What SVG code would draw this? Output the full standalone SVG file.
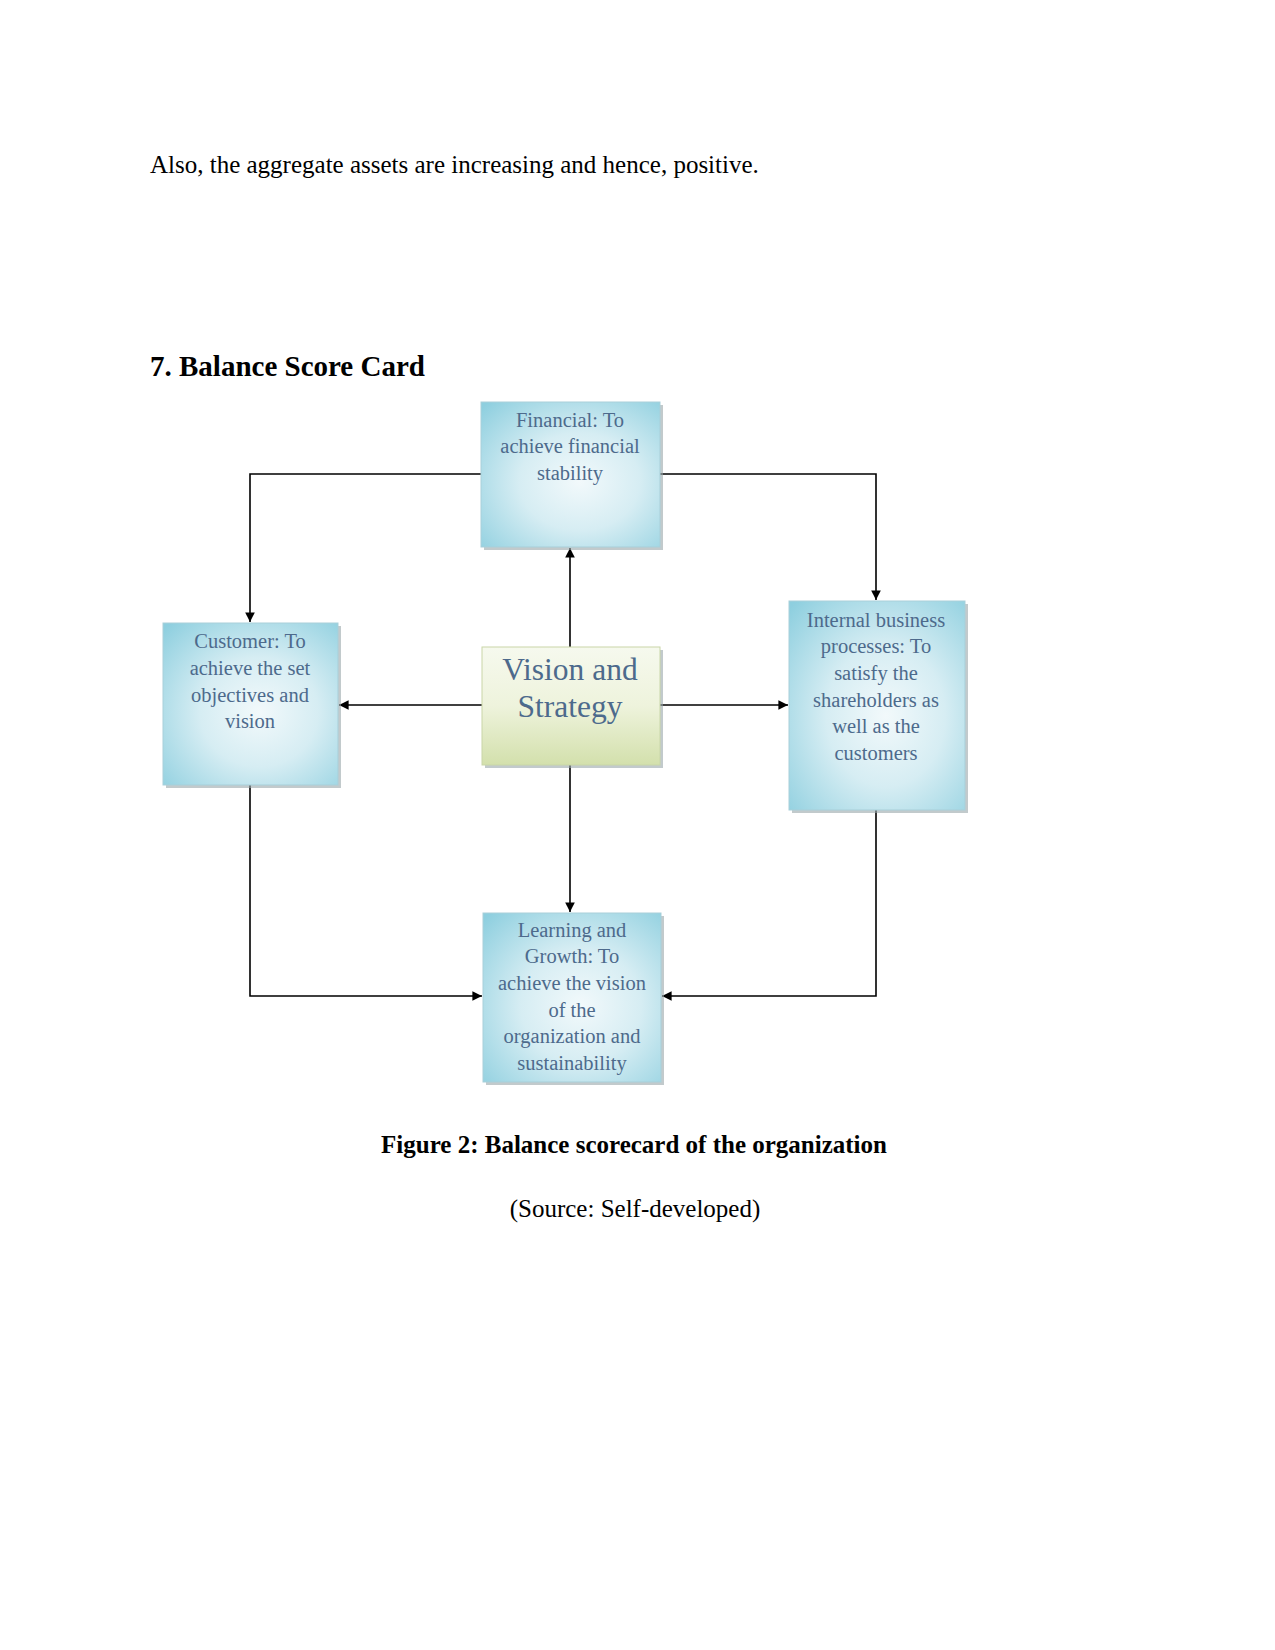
<svg xmlns="http://www.w3.org/2000/svg" width="1275" height="1650" viewBox="0 0 1275 1650">
<style>
.body{font-family:"Liberation Serif","Times New Roman",serif;font-size:25px;fill:#000}
.bold{font-weight:bold}
.bx{font-family:"Liberation Serif","Times New Roman",serif;font-size:20.5px;fill:#4d6a8c;text-anchor:middle}
.vs{font-family:"Liberation Serif","Times New Roman",serif;font-size:31.5px;fill:#4d6a8c;text-anchor:middle}
.box{fill:url(#blue);stroke:#a9cfd9;stroke-width:1}
.shadow{fill:#9aa6aa;opacity:0.6}
.conn{fill:none;stroke:#000;stroke-width:1.6}
</style>
<defs>
<radialGradient id="blue" cx="0.55" cy="0.55" r="0.75">
<stop offset="0" stop-color="#f2f9fb"/>
<stop offset="0.45" stop-color="#d6edf3"/>
<stop offset="1" stop-color="#8ecfdf"/>
</radialGradient>
<linearGradient id="green" x1="0" y1="0" x2="0" y2="1">
<stop offset="0" stop-color="#f6f9ee"/>
<stop offset="0.5" stop-color="#eef3dc"/>
<stop offset="1" stop-color="#d3e0ac"/>
</linearGradient>
<marker id="arr" viewBox="0 0 10 10" refX="10" refY="5" markerWidth="6" markerHeight="6" orient="auto" markerUnits="strokeWidth">
<path d="M0,0 L10,5 L0,10 z" fill="#000"/>
</marker>
</defs>
<rect width="1275" height="1650" fill="#fff"/>
<text class="body" x="150" y="173">Also, the aggregate assets are increasing and hence, positive.</text>
<text class="body bold" x="150" y="376" style="font-size:29px">7. Balance Score Card</text>

<g id="connectors">
<path class="conn" d="M481,474 H250 V622" marker-end="url(#arr)"/>
<path class="conn" d="M660,474 H876 V600" marker-end="url(#arr)"/>
<path class="conn" d="M570,647 V548" marker-end="url(#arr)"/>
<path class="conn" d="M482,705 H339" marker-end="url(#arr)"/>
<path class="conn" d="M660,705 H788" marker-end="url(#arr)"/>
<path class="conn" d="M570,765 V912" marker-end="url(#arr)"/>
<path class="conn" d="M250,785 V996 H482" marker-end="url(#arr)"/>
<path class="conn" d="M876,810 V996 H662" marker-end="url(#arr)"/>
</g>

<g id="financial">
<rect class="shadow" x="484" y="405" width="179" height="145"/>
<rect class="box" x="481" y="402" width="179" height="145"/>
<text class="bx" x="570" y="427">Financial: To</text>
<text class="bx" x="570" y="453">achieve financial</text>
<text class="bx" x="570" y="480">stability</text>
</g>

<g id="customer">
<rect class="shadow" x="166" y="626" width="175" height="162"/>
<rect class="box" x="163" y="623" width="175" height="162"/>
<text class="bx" x="250" y="648">Customer: To</text>
<text class="bx" x="250" y="675">achieve the set</text>
<text class="bx" x="250" y="702">objectives and</text>
<text class="bx" x="250" y="728">vision</text>
</g>

<g id="vision">
<rect class="shadow" x="485" y="650" width="178" height="118"/>
<rect x="482" y="647" width="178" height="118" fill="url(#green)" stroke="#c9d6a8" stroke-width="1"/>
<text class="vs" x="570" y="680">Vision and</text>
<text class="vs" x="570" y="717">Strategy</text>
</g>

<g id="internal">
<rect class="shadow" x="792" y="604" width="176" height="209"/>
<rect class="box" x="789" y="601" width="176" height="209"/>
<text class="bx" x="876" y="627">Internal business</text>
<text class="bx" x="876" y="653">processes: To</text>
<text class="bx" x="876" y="680">satisfy the</text>
<text class="bx" x="876" y="707">shareholders as</text>
<text class="bx" x="876" y="733">well as the</text>
<text class="bx" x="876" y="760">customers</text>
</g>

<g id="learning">
<rect class="shadow" x="486" y="916" width="178" height="169"/>
<rect class="box" x="483" y="913" width="178" height="169"/>
<text class="bx" x="572" y="937">Learning and</text>
<text class="bx" x="572" y="963">Growth: To</text>
<text class="bx" x="572" y="990">achieve the vision</text>
<text class="bx" x="572" y="1017">of the</text>
<text class="bx" x="572" y="1043">organization and</text>
<text class="bx" x="572" y="1070">sustainability</text>
</g>

<text class="body bold" x="634" y="1153" text-anchor="middle">Figure 2: Balance scorecard of the organization</text>
<text class="body" x="635" y="1217" text-anchor="middle">(Source: Self-developed)</text>
</svg>
